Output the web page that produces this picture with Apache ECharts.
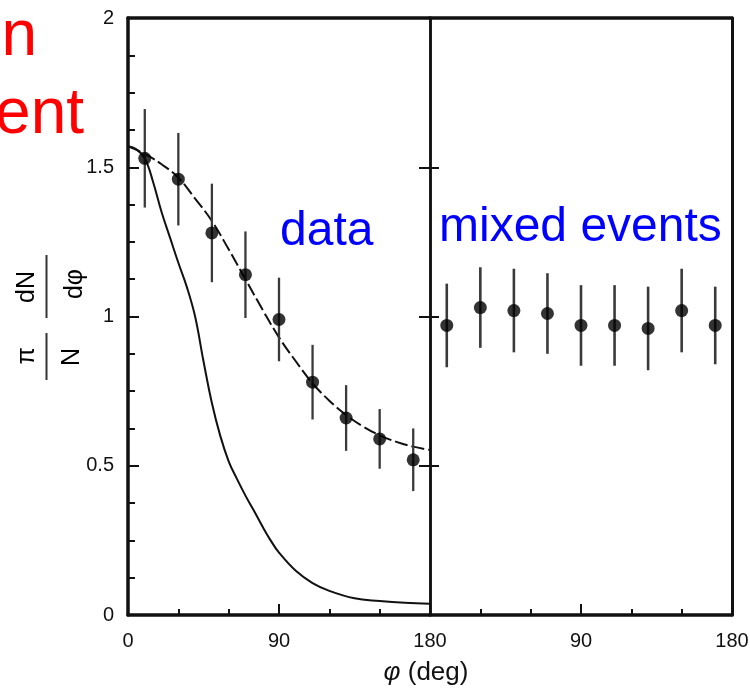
<!DOCTYPE html>
<html>
<head>
<meta charset="utf-8">
<script src="https://cdn.jsdelivr.net/npm/echarts@6/dist/echarts.min.js"></script>
<style>
html,body{margin:0;padding:0;background:#fff;}
#c{width:750px;height:694px;}
</style>
</head>
<body>
<div id="c"></div>
<script>
// ---- data ----
const binAngles = [10, 30, 50, 70, 90, 110, 130, 150, 170];
const dataValues = [1.53, 1.46, 1.28, 1.14, 0.99, 0.78, 0.66, 0.59, 0.52];
const dataErrors = [0.165, 0.155, 0.165, 0.145, 0.14, 0.125, 0.11, 0.10, 0.105];
const mixedValues = [0.97, 1.03, 1.02, 1.01, 0.97, 0.97, 0.96, 1.02, 0.97];
const mixedErrors = [0.14, 0.135, 0.14, 0.135, 0.135, 0.135, 0.14, 0.14, 0.13];

const dashedAngles = [0, 10, 20, 30, 40, 50, 60, 70, 80, 90, 100, 110, 120, 130, 140, 150, 160, 170, 180];
const dashedValues = [1.57, 1.545, 1.51, 1.465, 1.395, 1.32, 1.225, 1.125, 1.025, 0.93, 0.85, 0.776, 0.718, 0.67, 0.632, 0.602, 0.58, 0.564, 0.553];

const solidAngles = [0, 5, 10, 15, 20, 25, 30, 35, 40, 45, 50, 55, 60, 65, 70, 75, 80, 85, 90, 100, 110, 120, 135, 150, 165, 180];
const solidValues = [1.57, 1.56, 1.53, 1.45, 1.35, 1.265, 1.18, 1.1, 1.0, 0.85, 0.71, 0.6, 0.515, 0.455, 0.40, 0.35, 0.298, 0.25, 0.209, 0.148, 0.107, 0.081, 0.056, 0.047, 0.041, 0.038];

const xMax = 180;
const yMax = 2;

// ---- build chart ----
const FONT = '"Liberation Sans", Arial, sans-serif';
const INK = '#111';

function errItem(color, width) {
  return function (params, api) {
    const x = api.value(0), y = api.value(1), e = api.value(2);
    const p1 = api.coord([x, y + e]);
    const p2 = api.coord([x, y - e]);
    return {
      type: 'line',
      shape: { x1: p1[0], y1: p1[1], x2: p2[0], y2: p2[1] },
      style: { stroke: color, lineWidth: width }
    };
  };
}

const zip = (a, b) => a.map((v, i) => [v, b[i]]);
const zip3 = (a, b, c) => a.map((v, i) => [v, b[i], c[i]]);

const lineFrame = (w) => ({ show: true, onZero: false, lineStyle: { color: INK, width: w } });
const labelStyle = { color: '#111', fontFamily: FONT, fontSize: 20 };

const option = {
  animation: false,
  backgroundColor: '#fff',
  grid: [
    { left: 128, right: 320, top: 18, bottom: 79, containLabel: false, outerBoundsMode: 'none' },
    { left: 430, right: 18, top: 18, bottom: 79, containLabel: false, outerBoundsMode: 'none' }
  ],
  xAxis: [
    { // left bottom
      type: 'value', gridIndex: 0, position: 'bottom', min: 0, max: xMax, interval: 90,
      axisLine: lineFrame(3.5),
      axisTick: { show: true, inside: true, length: 11, lineStyle: { color: INK, width: 2 } },
      minorTick: { show: true, splitNumber: 3, length: 6, lineStyle: { color: INK, width: 2 } },
      splitLine: { show: false }, minorSplitLine: { show: false },
      axisLabel: Object.assign({ margin: 16, showMinLabel: true, showMaxLabel: true }, labelStyle)
    },
    { // left top
      type: 'value', gridIndex: 0, position: 'top', min: 0, max: xMax,
      axisLine: lineFrame(3.5), axisTick: { show: false }, axisLabel: { show: false }, splitLine: { show: false }
    },
    { // right bottom
      type: 'value', gridIndex: 1, position: 'bottom', min: 0, max: xMax, interval: 90,
      axisLine: lineFrame(3.5),
      axisTick: { show: true, inside: true, length: 11, lineStyle: { color: INK, width: 2 } },
      minorTick: { show: true, splitNumber: 3, length: 6, lineStyle: { color: INK, width: 2 } },
      splitLine: { show: false }, minorSplitLine: { show: false },
      axisLabel: Object.assign({ margin: 16, showMinLabel: false, showMaxLabel: true,
        formatter: (v) => (v === 0 ? '' : String(v)) }, labelStyle)
    },
    { // right top
      type: 'value', gridIndex: 1, position: 'top', min: 0, max: xMax,
      axisLine: lineFrame(3.5), axisTick: { show: false }, axisLabel: { show: false }, splitLine: { show: false }
    }
  ],
  yAxis: [
    { // left panel, left
      type: 'value', gridIndex: 0, position: 'left', min: 0, max: yMax, interval: 0.5,
      axisLine: lineFrame(3.5),
      axisTick: { show: true, inside: true, length: 11, lineStyle: { color: INK, width: 2 } },
      minorTick: { show: true, splitNumber: 4, length: 7, lineStyle: { color: INK, width: 2 } },
      splitLine: { show: false }, minorSplitLine: { show: false },
      axisLabel: Object.assign({ margin: 14 }, labelStyle)
    },
    { // left panel, right (divider) – ticks pointing left
      type: 'value', gridIndex: 0, position: 'right', min: 0, max: yMax, interval: 0.5,
      axisLine: lineFrame(2.5),
      axisTick: { show: true, inside: true, length: 11, lineStyle: { color: INK, width: 2 } },
      axisLabel: { show: false }, splitLine: { show: false }
    },
    { // right panel, left (divider) – ticks pointing right
      type: 'value', gridIndex: 1, position: 'left', min: 0, max: yMax, interval: 0.5,
      axisLine: lineFrame(2.5),
      axisTick: { show: true, inside: true, length: 9, lineStyle: { color: INK, width: 2 } },
      axisLabel: { show: false }, splitLine: { show: false }
    },
    { // right panel, right edge
      type: 'value', gridIndex: 1, position: 'right', min: 0, max: yMax,
      axisLine: lineFrame(3), axisTick: { show: false }, axisLabel: { show: false }, splitLine: { show: false }
    }
  ],
  series: [
    {
      type: 'line', xAxisIndex: 0, yAxisIndex: 0, data: zip(solidAngles, solidValues),
      showSymbol: false, symbol: 'none', smooth: 0.4,
      lineStyle: { color: INK, width: 2 }, z: 2, silent: true
    },
    {
      type: 'line', xAxisIndex: 0, yAxisIndex: 0, data: zip(dashedAngles, dashedValues),
      showSymbol: false, symbol: 'none', smooth: 0.4,
      lineStyle: { color: INK, width: 2, type: [13, 4] }, z: 2, silent: true
    },
    {
      type: 'custom', xAxisIndex: 0, yAxisIndex: 0, data: zip3(binAngles, dataValues, dataErrors),
      renderItem: errItem('#3a3a3a', 2.3), z: 3, silent: true
    },
    {
      type: 'scatter', xAxisIndex: 0, yAxisIndex: 0, data: zip(binAngles, dataValues),
      symbol: 'circle', symbolSize: 13, itemStyle: { color: '#000' }, z: 4, silent: true
    },
    {
      type: 'custom', xAxisIndex: 2, yAxisIndex: 2, data: zip3(binAngles, mixedValues, mixedErrors),
      renderItem: errItem('#3a3a3a', 2.6), z: 3, silent: true
    },
    {
      type: 'scatter', xAxisIndex: 2, yAxisIndex: 2, data: zip(binAngles, mixedValues),
      symbol: 'circle', symbolSize: 13, itemStyle: { color: '#000' }, z: 4, silent: true
    }
  ],
  graphic: [
    // red annotation fragments
    { type: 'text', x: 37, y: 37, silent: true,
      style: { text: 'n', fontSize: 64, fontFamily: FONT, fill: '#ff0000', align: 'right', verticalAlign: 'middle', textAlign: 'right', textVerticalAlign: 'middle' } },
    { type: 'text', x: 84, y: 115, silent: true,
      style: { text: 'ent', fontSize: 64, fontFamily: FONT, fill: '#ff0000', align: 'right', verticalAlign: 'middle', textAlign: 'right', textVerticalAlign: 'middle' } },
    // blue labels
    { type: 'text', x: 280, y: 232, silent: true,
      style: { text: 'data', fontSize: 48, fontFamily: FONT, fill: '#0000ff', align: 'left', verticalAlign: 'middle', textAlign: 'left', textVerticalAlign: 'middle' } },
    { type: 'text', x: 439, y: 228, silent: true,
      style: { text: 'mixed events', fontSize: 48, fontFamily: FONT, fill: '#0000ff', align: 'left', verticalAlign: 'middle', textAlign: 'left', textVerticalAlign: 'middle' } },
    // y-axis title: (π/N)(dN/dφ), rotated
    { type: 'text', x: 27, y: 287, rotation: Math.PI / 2, silent: true,
      style: { text: 'dN', fontSize: 25, fontFamily: FONT, fill: '#000', align: 'center', verticalAlign: 'middle', textAlign: 'center', textVerticalAlign: 'middle' } },
    { type: 'text', x: 75, y: 284, rotation: Math.PI / 2, silent: true,
      style: { text: 'dφ', fontSize: 25, fontFamily: FONT, fill: '#000', align: 'center', verticalAlign: 'middle', textAlign: 'center', textVerticalAlign: 'middle' } },
    { type: 'line', silent: true, shape: { x1: 46.5, y1: 255, x2: 46.5, y2: 318 }, style: { stroke: '#333', lineWidth: 2 } },
    { type: 'text', x: 27, y: 356, rotation: Math.PI / 2, silent: true,
      style: { text: 'π', fontSize: 25, fontFamily: FONT, fill: '#000', align: 'center', verticalAlign: 'middle', textAlign: 'center', textVerticalAlign: 'middle' } },
    { type: 'text', x: 72, y: 357, rotation: Math.PI / 2, silent: true,
      style: { text: 'N', fontSize: 25, fontFamily: FONT, fill: '#000', align: 'center', verticalAlign: 'middle', textAlign: 'center', textVerticalAlign: 'middle' } },
    { type: 'line', silent: true, shape: { x1: 46.5, y1: 333, x2: 46.5, y2: 380 }, style: { stroke: '#333', lineWidth: 2 } },
    // x-axis title
    { type: 'text', x: 426, y: 673, silent: true,
      style: { text: '{i|φ} (deg)', fontSize: 26, fontFamily: FONT, fill: '#111', align: 'center', verticalAlign: 'middle', textAlign: 'center', textVerticalAlign: 'middle',
        rich: { i: { fontStyle: 'italic', fontSize: 26, fontFamily: FONT, fill: '#111' } } } }
  ]
};

const chart = echarts.init(document.getElementById('c'), null, { renderer: 'canvas' });
chart.setOption(option);
</script>
</body>
</html>
